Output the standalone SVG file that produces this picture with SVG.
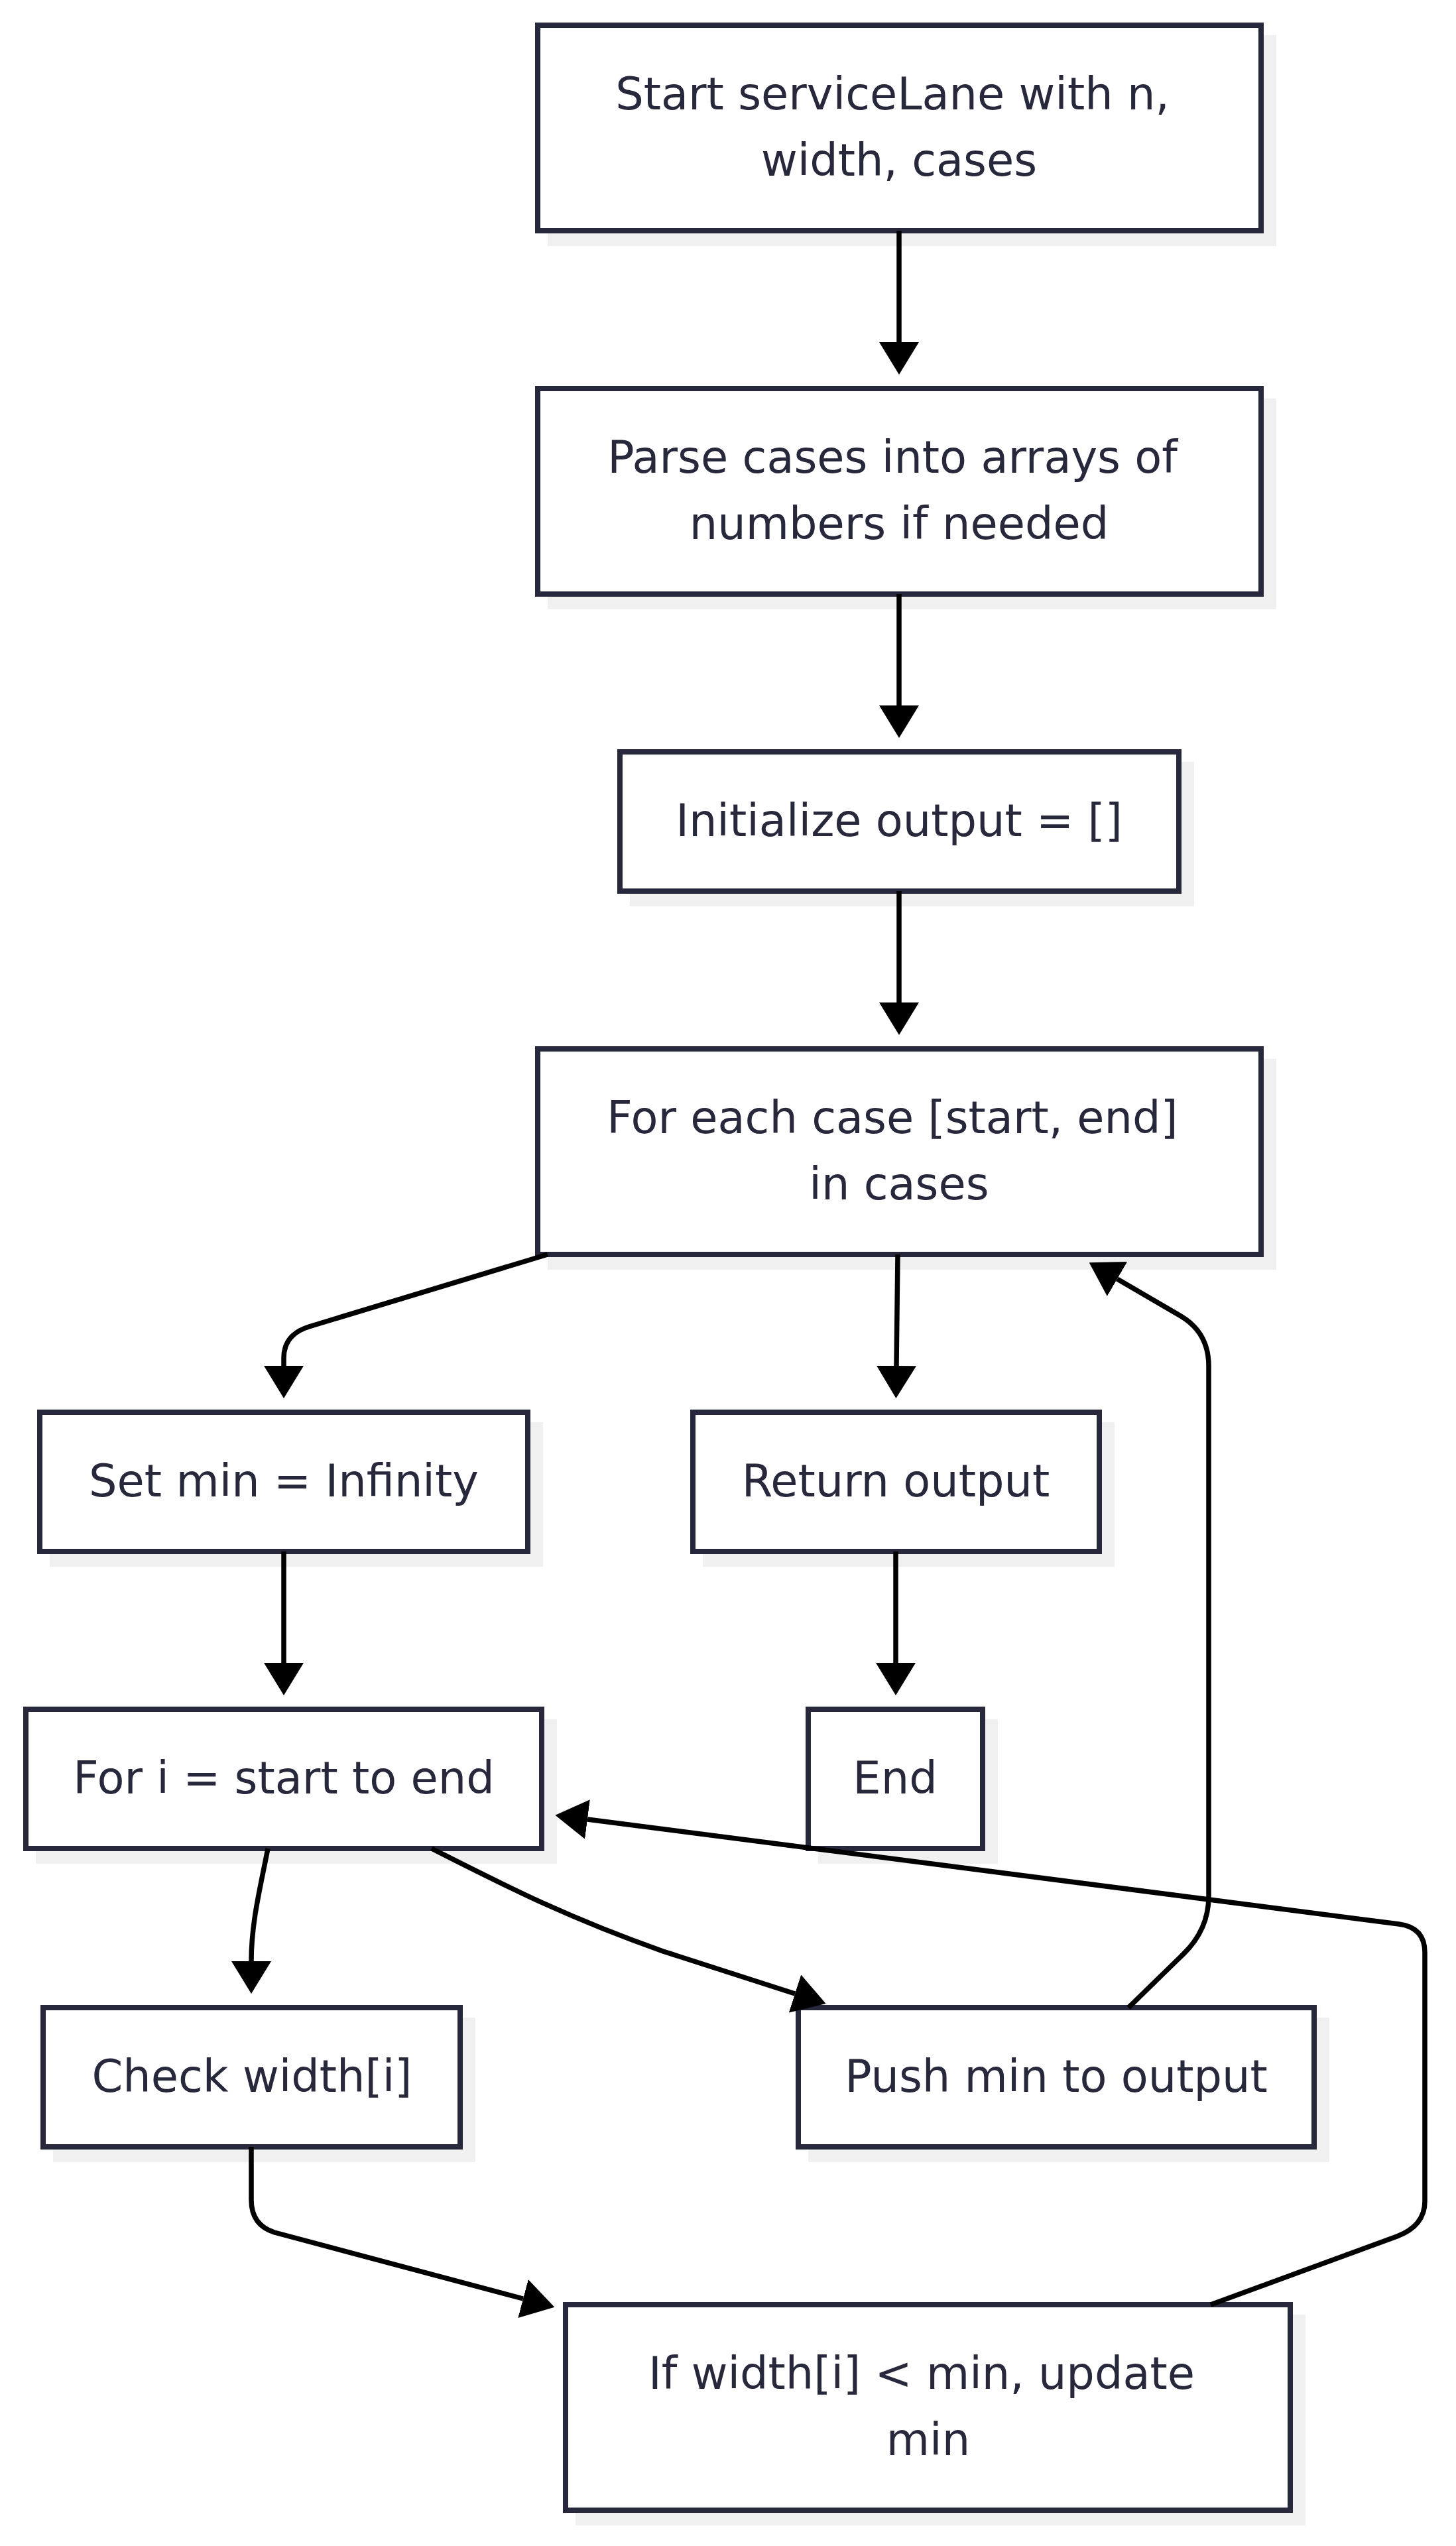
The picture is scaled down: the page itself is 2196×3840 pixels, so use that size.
<svg xmlns="http://www.w3.org/2000/svg" width="2196" height="3840" viewBox="0 0 2196 3840">
<defs>
<style>
.box{fill:#ffffff;stroke:#28283d;stroke-width:8}
.sh{fill:#f0f0f0}
.lbl{font-family:"DejaVu Sans",sans-serif;font-size:67px;fill:#28283d;text-anchor:middle}
.edge{fill:none;stroke:#000000;stroke-width:7.5}
</style>
<marker id="arr" markerUnits="userSpaceOnUse" viewBox="0 0 49 60" refX="0" refY="30" markerWidth="49" markerHeight="60" orient="auto">
<path d="M0,0 L49,30 L0,60 z" fill="#000000"/>
</marker>
</defs>
<rect width="2196" height="3840" fill="#ffffff"/>

<g id="node-start">
<rect class="sh" x="826" y="53" width="1099" height="318"/>
<rect class="box" x="811" y="38" width="1091" height="310"/>
<text class="lbl" x="1346" y="165">Start serviceLane with n,</text>
<text class="lbl" x="1356" y="265">width, cases</text>
</g>

<g id="node-parse">
<rect class="sh" x="826" y="601" width="1099" height="318"/>
<rect class="box" x="811" y="586" width="1091" height="310"/>
<text class="lbl" x="1346" y="713">Parse cases into arrays of</text>
<text class="lbl" x="1356" y="813">numbers if needed</text>
</g>

<g id="node-init">
<rect class="sh" x="950" y="1149" width="851" height="218"/>
<rect class="box" x="935" y="1134" width="843" height="210"/>
<text class="lbl" x="1356" y="1261">Initialize output = []</text>
</g>

<g id="node-foreach">
<rect class="sh" x="826" y="1597" width="1099" height="318"/>
<rect class="box" x="811" y="1582" width="1091" height="310"/>
<text class="lbl" x="1346" y="1709">For each case [start, end]</text>
<text class="lbl" x="1356" y="1809">in cases</text>
</g>

<g id="node-setmin">
<rect class="sh" x="75" y="2145" width="744" height="218"/>
<rect class="box" x="60" y="2130" width="736" height="210"/>
<text class="lbl" x="428" y="2257">Set min = Infinity</text>
</g>

<g id="node-return">
<rect class="sh" x="1060" y="2145" width="621" height="218"/>
<rect class="box" x="1045" y="2130" width="613" height="210"/>
<text class="lbl" x="1351" y="2257">Return output</text>
</g>

<g id="node-fori">
<rect class="sh" x="54" y="2593" width="786" height="218"/>
<rect class="box" x="39" y="2578" width="778" height="210"/>
<text class="lbl" x="428" y="2705">For i = start to end</text>
</g>

<g id="node-end">
<rect class="sh" x="1234" y="2593" width="271" height="218"/>
<rect class="box" x="1219" y="2578" width="263" height="210"/>
<text class="lbl" x="1350" y="2705">End</text>
</g>

<g id="node-check">
<rect class="sh" x="80" y="3043" width="637" height="218"/>
<rect class="box" x="65" y="3028" width="629" height="210"/>
<text class="lbl" x="380" y="3155">Check width[i]</text>
</g>

<g id="node-push">
<rect class="sh" x="1219" y="3043" width="786" height="218"/>
<rect class="box" x="1204" y="3028" width="778" height="210"/>
<text class="lbl" x="1593" y="3155">Push min to output</text>
</g>

<g id="node-if">
<rect class="sh" x="868" y="3491" width="1101" height="318"/>
<rect class="box" x="853" y="3476" width="1093" height="310"/>
<text class="lbl" x="1390" y="3603">If width[i] &lt; min, update</text>
<text class="lbl" x="1400" y="3703">min</text>
</g>

<g id="connectors">
<path class="edge" d="M1356,348 L1356,516" marker-end="url(#arr)"/>
<path class="edge" d="M1356,896 L1356,1064" marker-end="url(#arr)"/>
<path class="edge" d="M1356,1344 L1356,1512" marker-end="url(#arr)"/>
<path class="edge" d="M826,1892 L466,2001 Q428,2013 428,2048 L428,2060" marker-end="url(#arr)"/>
<path class="edge" d="M1354,1892 L1352,2060" marker-end="url(#arr)"/>
<path class="edge" d="M428,2340 L428,2508" marker-end="url(#arr)"/>
<path class="edge" d="M1351,2340 L1351,2508" marker-end="url(#arr)"/>
<path class="edge" d="M404,2788 C392,2850 379,2900 379,2958" marker-end="url(#arr)"/>
<path class="edge" d="M651,2788 C760,2843 850,2890 1000,2943 L1199,3007" marker-end="url(#arr)"/>
<path class="edge" d="M1702,3028 L1785,2947 Q1823,2910 1823,2860 L1823,2060 Q1823,2010 1781,1985 L1685,1929" marker-end="url(#arr)"/>
<path class="edge" d="M379,3238 L379,3318 Q379,3356 414,3367 L789,3467" marker-end="url(#arr)"/>
<path class="edge" d="M1826,3476 L2107,3373 Q2149,3357 2149,3320 L2149,2945 Q2149,2907 2110,2902 L886,2744" marker-end="url(#arr)"/>
</g>
</svg>
